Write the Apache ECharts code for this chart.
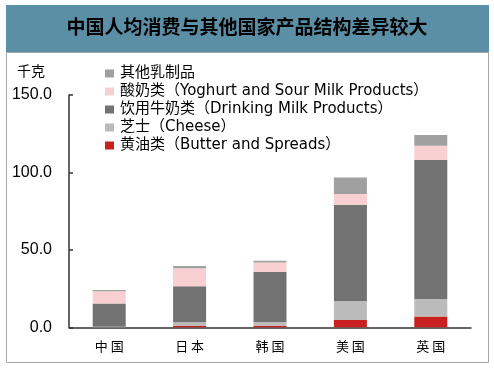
<!DOCTYPE html>
<html><head><meta charset="utf-8">
<script src="https://cdn.jsdelivr.net/npm/echarts@6/dist/echarts.min.js"></script>
<style>html,body{margin:0;padding:0;background:#fff}#c{width:494px;height:368px}</style>
</head><body><div id="c"></div>
<script>
const categories = ['中国','日本','韩国','美国','英国'];
const seriesNames = ['其他乳制品','酸奶类（Yoghurt and Sour Milk Products）','饮用牛奶类（Drinking Milk Products）','芝士（Cheese）','黄油类（Butter and Spreads）'];
const butter = [0.1, 0.9, 1.0, 4.7, 6.9];
const cheese = [0.2, 2.3, 2.4, 12.3, 11.4];
const drinking = [15.0, 23.3, 32.3, 62.1, 89.8];
const yoghurt = [8.0, 11.6, 6.1, 6.9, 9.1];
const other = [0.8, 1.5, 1.1, 10.7, 6.9];
const yTicks = [0, 50, 100, 150];
const title = '中国人均消费与其他国家产品结构差异较大';
const unit = '千克';

const colors = {butter:'#C8201E', cheese:'#BBBBBB', drinking:'#727272', yoghurt:'#F8D0D1', other:'#A0A0A0'};
const chart = echarts.init(document.getElementById('c'));
const font = "'DejaVu Sans','Noto Sans CJK SC',sans-serif";
function mk(name, data, color){
  return {name, type:'bar', stack:'a', data, barWidth:33, itemStyle:{color}, emphasis:{disabled:true}};
}
chart.setOption({
  animation:false,
  graphic:[
    {type:'rect', shape:{x:6.5,y:52.5,width:482,height:310}, style:{fill:'#fff', stroke:'#A6A6A6', lineWidth:1}, z:-10},
    {type:'rect', shape:{x:6,y:5,width:483,height:47}, style:{fill:'#5B8FA6'}, z:-5},
    {type:'text', left:'center', top:17, style:{text:title, font:"bold 19px 'Noto Sans CJK SC'", fill:'#000'}},
    {type:'text', x:17, y:64, style:{text:unit, font:"14px 'Noto Sans CJK SC'", fill:'#000'}}
  ],
  legend:{
    orient:'vertical', left:100, top:61, itemWidth:9, itemHeight:8, itemGap:3,
    icon:'rect', selectedMode:false,
    textStyle:{fontFamily:font, fontSize:15, lineHeight:14, color:'#000', padding:[0,0,0,1]},
    data:seriesNames
  },
  grid:{left:69, right:23, top:95, bottom:40.7, containLabel:false},
  xAxis:{
    type:'category', data:categories,
    axisLine:{lineStyle:{color:'#333', width:1.5}},
    axisTick:{inside:true, length:4, lineStyle:{color:'#333', width:1.5}},
    axisLabel:{margin:12, fontFamily:"'Noto Sans CJK SC'", fontSize:13, color:'#000',
      formatter:v=>v.split('').join(' ')}
  },
  yAxis:{
    type:'value', min:yTicks[0], max:yTicks[yTicks.length-1], interval:50,
    axisLine:{show:true, lineStyle:{color:'#333', width:1.5}},
    axisTick:{show:true, inside:true, length:4, lineStyle:{color:'#333', width:1.5}},
    splitLine:{show:false},
    axisLabel:{margin:17, fontFamily:"'Liberation Sans'", fontSize:16, color:'#000', formatter:v=>v.toFixed(1)}
  },
  series:[
    mk(seriesNames[4], butter, colors.butter),
    mk(seriesNames[3], cheese, colors.cheese),
    mk(seriesNames[2], drinking, colors.drinking),
    mk(seriesNames[1], yoghurt, colors.yoghurt),
    mk(seriesNames[0], other, colors.other)
  ]
});
</script></body></html>
